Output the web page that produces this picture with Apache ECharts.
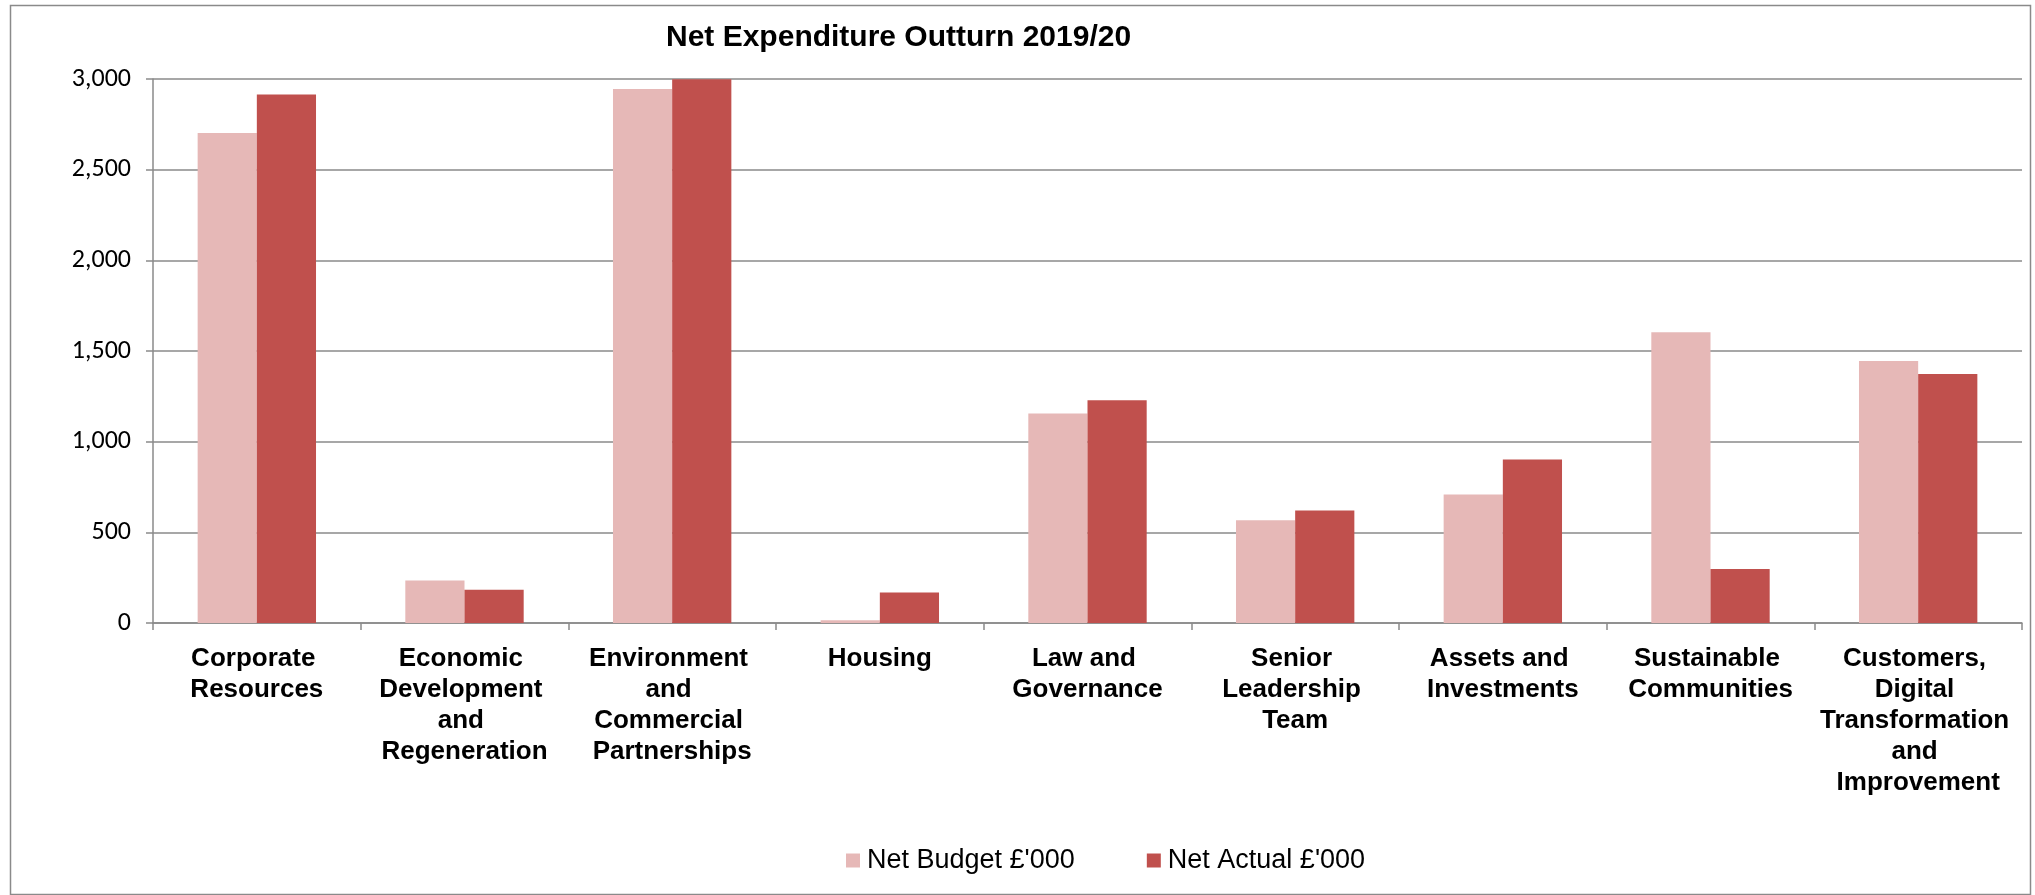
<!DOCTYPE html>
<html>
<head>
<meta charset="utf-8">
<script src="https://cdn.jsdelivr.net/npm/echarts@6/dist/echarts.min.js"></script>
<style>
  html, body { margin: 0; padding: 0; background: #ffffff; }
  #chart { width: 2035px; height: 895px; }
</style>
</head>
<body>
<div id="chart"></div>
<script>
const chartTitle = "Net Expenditure Outturn 2019/20";
const categories = [
  "Corporate Resources",
  "Economic Development and Regeneration",
  "Environment and Commercial Partnerships",
  "Housing",
  "Law and Governance",
  "Senior Leadership Team",
  "Assets and Investments",
  "Sustainable Communities",
  "Customers, Digital Transformation and Improvement"
];
const seriesNames = ["Net Budget £'000", "Net Actual £'000"];
const netBudget = [2702, 235, 2945, 15, 1156, 566, 709, 1603, 1445];
const netActual = [2915, 183, 2998, 168, 1228, 621, 902, 298, 1373];
const yMin = 0, yMax = 3000, yStep = 500;

const chart = echarts.init(document.getElementById('chart'), null, { renderer: 'canvas' });
const axisGray = '#8a8a8a';
chart.setOption({
  backgroundColor: '#ffffff',
  animation: false,
  graphic: [{
    type: 'rect',
    left: 8, top: 3,
    shape: { x: 0, y: 0, width: 2020, height: 889 },
    style: { fill: 'none', stroke: '#8a8a8a', lineWidth: 1.5 },
    silent: true
  }],
  title: {
    text: chartTitle,
    left: 666, top: 23, padding: 0,
    textStyle: { fontFamily: 'Liberation Sans, Arial, sans-serif', fontSize: 30, fontWeight: 'bold', color: '#000' }
  },
  legend: {
    data: seriesNames,
    left: 846, top: 847, padding: 0,
    icon: 'rect', itemWidth: 14, itemHeight: 14, itemGap: 72,
    textStyle: { fontFamily: 'Liberation Sans, Arial, sans-serif', fontSize: 27, color: '#000', padding: [0, 0, 0, 2] }
  },
  grid: { left: 153, right: 13, top: 79, bottom: 272, containLabel: false },
  xAxis: {
    type: 'category',
    data: categories,
    axisLine: { lineStyle: { color: axisGray, width: 1.5 } },
    axisTick: { show: true, length: 7, lineStyle: { color: axisGray, width: 1.5 } },
    axisLabel: {
      interval: 0, width: 200, overflow: 'break',
      fontFamily: 'Liberation Sans, Arial, sans-serif', fontSize: 26, fontWeight: 'bold',
      lineHeight: 31, color: '#000', margin: 20, align: 'center'
    }
  },
  yAxis: {
    type: 'value',
    min: yMin, max: yMax, interval: yStep,
    axisLine: { show: true, lineStyle: { color: axisGray, width: 1.5 } },
    axisTick: { show: true, length: 7, lineStyle: { color: axisGray, width: 1.5 } },
    splitLine: { lineStyle: { color: axisGray, width: 1.5 } },
    axisLabel: {
      fontFamily: 'Carlito, Lato, sans-serif', fontSize: 26, color: '#000', margin: 22,
      formatter: v => v.toLocaleString('en-US')
    }
  },
  series: [
    { name: seriesNames[0], type: 'bar', data: netBudget, barGap: '0%', barCategoryGap: '43%',
      itemStyle: { color: '#E6B8B7' } },
    { name: seriesNames[1], type: 'bar', data: netActual, barGap: '0%', barCategoryGap: '43%',
      itemStyle: { color: '#C0504D' } }
  ]
});
</script>
</body>
</html>
